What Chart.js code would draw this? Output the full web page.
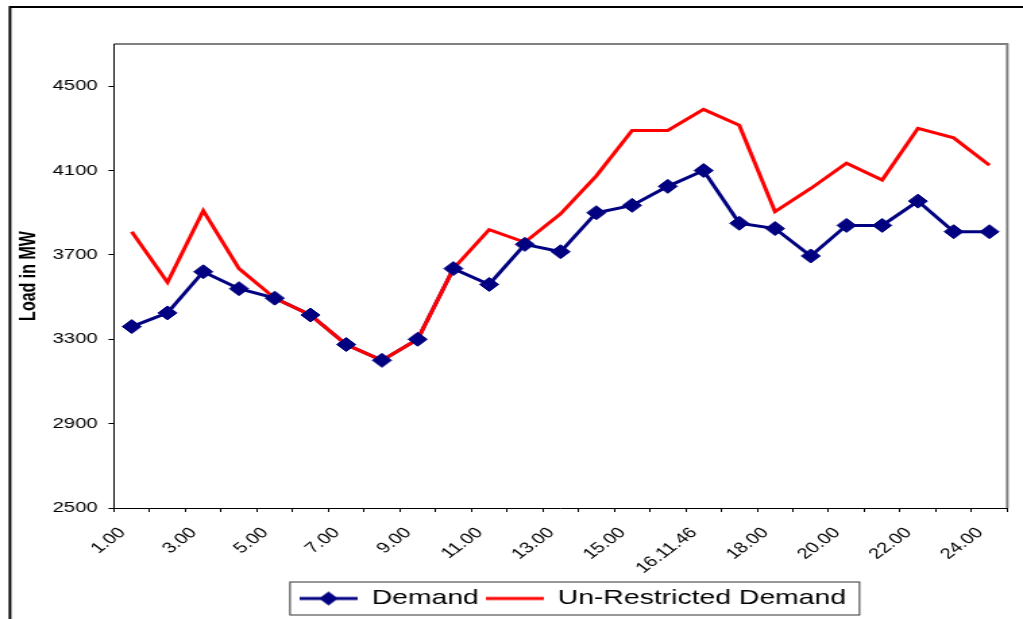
<!DOCTYPE html>
<html lang="en">
<head>
  <meta charset="UTF-8">
  <title>Load in MW</title>
  <script src="https://cdn.jsdelivr.net/npm/chart.js"></script>
  <style>
    body {
      margin: 0;
      background: #ffffff;
    }

    #loadChart {
      display: block;
    }
  </style>
</head>
<body>

  <!-- the original picture is a horizontally stretched Excel chart,
       so the canvas is drawn narrower and widened by its style -->
  <canvas id="loadChart" width="758" height="619" style="width:1023px;height:619px"></canvas>

  <script>
    const hours = [
      '1.00', '2.00', '3.00', '4.00', '5.00', '6.00', '7.00', '8.00', '9.00',
      '10.00', '11.00', '12.00', '13.00', '14.00', '15.00', '16.00', '16.11.46',
      '17.00', '18.00', '19.00', '20.00', '21.00', '22.00', '23.00', '24.00'
    ];
    const demand = [
      3360, 3425, 3620, 3540, 3495, 3415, 3275, 3200, 3300,
      3635, 3560, 3750, 3715, 3900, 3935, 4025, 4100,
      3850, 3825, 3695, 3840, 3840, 3955, 3810, 3810
    ];
    const unrestricted = [
      3810, 3570, 3910, 3635, 3495, 3415, 3275, 3200, 3300,
      3635, 3820, 3760, 3895, 4075, 4290, 4290, 4390,
      4315, 3905, 4015, 4135, 4055, 4300, 4255, 4125
    ];
    const yTicks = [2500, 2900, 3300, 3700, 4100, 4500];
    const seriesNames = ['Demand', 'Un-Restricted Demand'];

    const navy = '#000080';
    const red = '#ff0000';
    const font = "'Liberation Sans', Arial, sans-serif";

    // little pictures for the legend: line with diamond, plain line
    function legendMark(color, diamond) {
      const c = document.createElement('canvas');
      c.width = 43;
      c.height = 16;
      const g = c.getContext('2d');
      g.strokeStyle = color;
      g.lineWidth = 3;
      g.beginPath();
      g.moveTo(0, 8);
      g.lineTo(43, 8);
      g.stroke();
      if (diamond) {
        g.fillStyle = color;
        g.beginPath();
        g.moveTo(21.5, 1);
        g.lineTo(28.5, 8);
        g.lineTo(21.5, 15);
        g.lineTo(14.5, 8);
        g.closePath();
        g.fill();
      }
      return c;
    }
    const marks = [legendMark(navy, true), legendMark(red, false)];

    const frames = {
      id: 'frames',
      afterLayout(chart) {
        chart.legend.left += 9;
        chart.legend.right += 9;
      },
      beforeDraw(chart) {
        const g = chart.ctx;
        const a = chart.chartArea;
        g.save();
        // outer chart border
        g.strokeStyle = '#000000';
        g.lineWidth = 2;
        g.strokeRect(7.4, 7, 800, 700);
        // plot area border, top and right
        g.strokeStyle = '#808080';
        g.lineWidth = 2;
        g.beginPath();
        g.moveTo(a.left, a.top);
        g.lineTo(a.right, a.top);
        g.lineTo(a.right, a.bottom);
        g.stroke();
        g.restore();
      },
      afterDraw(chart) {
        const boxes = chart.legend.legendHitBoxes;
        if (!boxes || !boxes.length) return;
        const first = boxes[0];
        const last = boxes[boxes.length - 1];
        const g = chart.ctx;
        g.save();
        g.strokeStyle = '#333333';
        g.lineWidth = 1;
        g.strokeRect(first.left - 7, first.top - 6,
          last.left + last.width - first.left + 17, first.height + 12);
        g.restore();
      }
    };

    const ctx = document.getElementById('loadChart').getContext('2d');

    const chart = new Chart(ctx, {
      type: 'line',
      data: {
        labels: hours,
        datasets: [
          {
            label: seriesNames[0],
            data: demand,
            borderColor: navy,
            borderWidth: 3,
            pointRadius: 0,
            tension: 0,
            order: 2
          },
          {
            label: seriesNames[1],
            data: unrestricted,
            borderColor: red,
            borderWidth: 3,
            pointRadius: 0,
            tension: 0,
            order: 1
          },
          {
            label: 'markers',
            data: demand,
            showLine: false,
            pointStyle: 'rectRot',
            pointRadius: 7,
            pointBackgroundColor: navy,
            pointBorderColor: navy,
            pointBorderWidth: 1,
            order: 0
          }
        ]
      },
      options: {
        responsive: false,
        animation: false,
        devicePixelRatio: 1,
        layout: {
          padding: { left: 0, right: 7.6, top: 44, bottom: 0 }
        },
        scales: {
          x: {
            type: 'category',
            offset: true,
            afterFit(scale) { scale.height = 75; },
            border: { color: '#000000', width: 1 },
            grid: {
              offset: true,
              drawOnChartArea: false,
              drawTicks: true,
              tickLength: 4,
              color: '#000000'
            },
            ticks: {
              autoSkip: false,
              minRotation: 45,
              maxRotation: 45,
              padding: 12,
              labelOffset: -7,
              color: '#000000',
              font: { family: font, size: 15 },
              callback: function (value, index) {
                return index % 2 === 0 ? this.getLabelForValue(value) : '';
              }
            }
          },
          y: {
            min: 2500,
            max: 4700,
            afterFit(scale) { scale.width = 84.4; },
            afterBuildTicks(scale) {
              scale.ticks = yTicks.map(v => ({ value: v }));
            },
            border: { color: '#000000', width: 1 },
            grid: {
              drawOnChartArea: false,
              drawTicks: true,
              tickLength: 4,
              color: '#000000'
            },
            ticks: {
              padding: 8,
              color: '#000000',
              font: { family: font, size: 15 },
              callback: value => String(value)
            },
            title: {
              display: true,
              text: 'Load in MW',
              color: '#000000',
              padding: { top: 12, bottom: 0 },
              font: { family: font, size: 16, weight: 'bold' }
            }
          }
        },
        plugins: {
          legend: {
            position: 'bottom',
            fullSize: false,
            labels: {
              usePointStyle: true,
              pointStyleWidth: 43,
              padding: 5,
              color: '#000000',
              font: { family: font, size: 21 },
              generateLabels: () => seriesNames.map((name, i) => ({
                text: name,
                pointStyle: marks[i],
                fillStyle: 'transparent',
                strokeStyle: 'transparent',
                lineWidth: 0,
                hidden: false,
                datasetIndex: i
              }))
            }
          },
          tooltip: { enabled: false }
        }
      },
      plugins: [frames]
    });
  </script>
</body>
</html>
